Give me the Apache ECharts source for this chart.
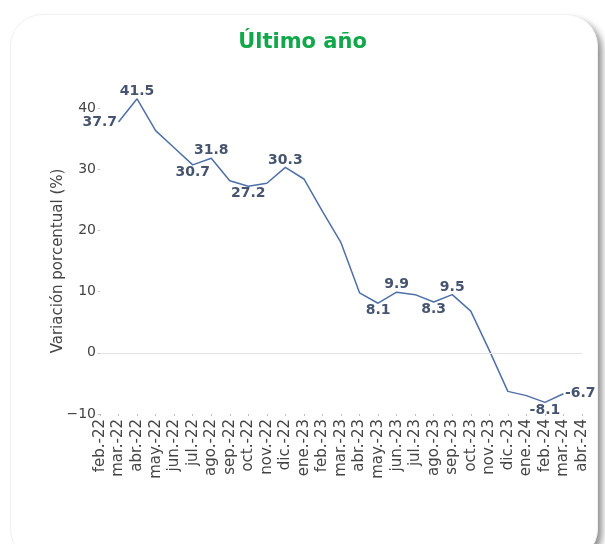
<!DOCTYPE html>
<html>
<head>
<meta charset="utf-8">
<script src="https://cdn.jsdelivr.net/npm/echarts@6/dist/echarts.min.js"></script>
<style>
  html, body { margin: 0; padding: 0; background: #ffffff; width: 605px; height: 544px; overflow: hidden; }
  #card { position: absolute; left: 10px; top: 14px; width: 586px; height: 545px; border-radius: 32px;
          background: #ffffff; border: 1px solid #f1f1f1; box-shadow: 6px 4px 7px -2px rgba(0,0,0,0.45); }
  #chart { position: absolute; left: 0; top: 0; width: 605px; height: 544px; }
</style>
</head>
<body>
<div id="card"></div>
<div id="chart"></div>
<script>
// Axis categories (month labels)
const categories = ["feb.-22","mar.-22","abr.-22","may.-22","jun.-22","jul.-22","ago.-22","sep.-22","oct.-22","nov.-22","dic.-22",
  "ene.-23","feb.-23","mar.-23","abr.-23","may.-23","jun.-23","jul.-23","ago.-23","sep.-23","oct.-23","nov.-23","dic.-23",
  "ene.-24","feb.-24","mar.-24","abr.-24"];
// Months that carry data (mar.-22 .. mar.-24)
const dataMonths = ["mar.-22","abr.-22","may.-22","jun.-22","jul.-22","ago.-22","sep.-22","oct.-22","nov.-22","dic.-22",
  "ene.-23","feb.-23","mar.-23","abr.-23","may.-23","jun.-23","jul.-23","ago.-23","sep.-23","oct.-23","nov.-23","dic.-23",
  "ene.-24","feb.-24","mar.-24"];
const values = [37.7, 41.5, 36.3, 33.5, 30.7, 31.8, 28.1, 27.2, 27.7, 30.3,
  28.4, 23.1, 18.0, 9.8, 8.1, 9.9, 9.5, 8.3, 9.5, 6.8, 0.4, -6.3,
  -7.0, -8.1, -6.7];
// Y-axis ticks
const yTicks = [-10, 0, 10, 20, 30, 40];
// Which months get a value label, and where
const labelled = {"mar.-22":"left","abr.-22":"top","jul.-22":"bottom","ago.-22":"top","oct.-22":"bottom","dic.-22":"top",
  "may.-23":"bottom","jun.-23":"top","ago.-23":"bottom","sep.-23":"top","feb.-24":"bottom","mar.-24":"right"};

const FONT = "DejaVu Sans";
const seriesData = categories.map(c => {
  const i = dataMonths.indexOf(c);
  if (i < 0) return '-';
  const pos = labelled[c];
  if (!pos) return values[i];
  return {
    value: values[i],
    label: { show: true, position: pos, distance: (pos === 'left' || pos === 'right') ? 1 : 0 }
  };
});

const chart = echarts.init(document.getElementById('chart'), null, { renderer: 'canvas' });
chart.setOption({
  backgroundColor: 'transparent',
  animation: false,
  title: {
    text: 'Último año', left: 'center', top: 27,
    textStyle: { fontFamily: FONT, fontSize: 21, fontWeight: 'bold', color: '#10a84a' }
  },
  grid: { left: 100, right: 23, top: 108, bottom: 130, containLabel: false },
  xAxis: {
    type: 'category', data: categories, boundaryGap: false,
    axisLine: { show: false, onZero: false },
    axisTick: { show: true, length: 2, alignWithLabel: true, interval: 0, lineStyle: { color: '#bdbdbd' } },
    axisLabel: { interval: 0, rotate: 90, margin: 5, fontFamily: FONT, fontSize: 15, color: '#444444' },
    splitLine: { show: false }
  },
  yAxis: {
    type: 'value', min: yTicks[0], max: yTicks[yTicks.length - 1], interval: 10,
    name: 'Variación porcentual (%)', nameLocation: 'middle', nameGap: 34, nameRotate: 90,
    nameMoveOverlap: false,
    nameTextStyle: { fontFamily: FONT, fontSize: 15, color: '#444444' },
    axisLine: { show: false },
    axisTick: { show: true, length: 2, lineStyle: { color: '#bdbdbd' } },
    axisLabel: { margin: 4, fontFamily: FONT, fontSize: 14, color: '#444444',
      formatter: v => (v < 0 ? '\u2212' + Math.abs(v) : String(v)) },
    splitLine: { show: false }
  },
  series: [{
    type: 'line', data: seriesData, clip: false, connectNulls: false,
    symbol: 'circle', symbolSize: 1, showSymbol: true,
    lineStyle: { color: '#4f6fa8', width: 1.5 },
    itemStyle: { color: 'rgba(0,0,0,0)', borderWidth: 0 },
    label: { show: false, fontFamily: FONT, fontSize: 14, fontWeight: 'bold', color: '#46546f',
      formatter: p => String(p.value) },
    labelLayout: { hideOverlap: false },
    markLine: {
      silent: true, symbol: ['none', 'none'], label: { show: false },
      lineStyle: { color: '#e3e3e3', width: 1, type: 'solid' },
      data: [{ yAxis: 0 }]
    }
  }]
});
</script>
</body>
</html>
